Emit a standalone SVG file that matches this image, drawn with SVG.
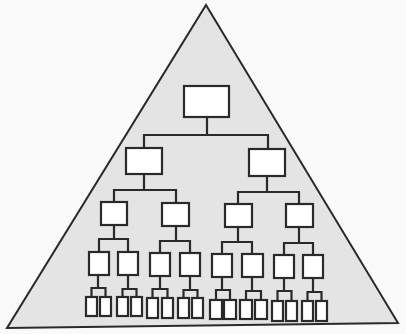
<svg xmlns="http://www.w3.org/2000/svg" width="406" height="334" viewBox="0 0 406 334">
<style>
.bg{fill:#fafafa}
.tri{fill:#e4e4e4;stroke:#2a2a2a;stroke-width:2;stroke-linejoin:miter}
.n{fill:#ffffff;stroke:#2a2a2a;stroke-width:2.2}
.c{fill:none;stroke:#2a2a2a;stroke-width:2.2;stroke-linejoin:miter}
</style>
<rect class="bg" x="0" y="0" width="406" height="334"/>
<polygon id="pyramid" class="tri" points="206,5 398,323 7,328"/>
<g id="connectors">
<path class="c" d="M207,117V135M144,148V135H268V149"/>
<path class="c" d="M144,174V190M114,202V190H176V203"/>
<path class="c" d="M267,176V192M238,204V192H299V204"/>
<path class="c" d="M114,225V239M99,252V239H128V252"/>
<path class="c" d="M176,226V241M160,253V241H190V253"/>
<path class="c" d="M238,227V242M222,254V242H252V254"/>
<path class="c" d="M299,227V243M284,255V243H313V255"/>
<path class="c" d="M98,275V288M91.5,297V288H105.5V297"/>
<path class="c" d="M128,275V289M122.5,297V289H136.5V297"/>
<path class="c" d="M160,276V289M152.5,298V289H167.5V298"/>
<path class="c" d="M190,276V290M183.5,298V290H197.5V298"/>
<path class="c" d="M222,277V290M216,300V290H230V300"/>
<path class="c" d="M252,277V291M246,300V291H261V300"/>
<path class="c" d="M284,278V291M277.5,301V291H291.5V301"/>
<path class="c" d="M313,278V292M307.5,301V292H321.5V301"/>
</g>
<g id="n1"><rect class="n" x="184" y="86" width="45" height="31"/></g>
<g id="n2a"><rect class="n" x="126" y="148" width="36" height="26"/></g>
<g id="n2b"><rect class="n" x="249" y="149" width="36" height="27"/></g>
<g id="n3a"><rect class="n" x="101" y="202" width="26" height="23"/></g>
<g id="n3b"><rect class="n" x="162" y="203" width="27" height="23"/></g>
<g id="n3c"><rect class="n" x="225" y="204" width="27" height="23"/></g>
<g id="n3d"><rect class="n" x="286" y="204" width="27" height="23"/></g>
<g id="n4a"><rect class="n" x="89" y="252" width="20" height="23"/></g>
<g id="n4b"><rect class="n" x="118" y="252" width="20" height="23"/></g>
<g id="n4c"><rect class="n" x="150" y="253" width="20" height="23"/></g>
<g id="n4d"><rect class="n" x="180" y="253" width="20" height="23"/></g>
<g id="n4e"><rect class="n" x="212" y="254" width="20" height="23"/></g>
<g id="n4f"><rect class="n" x="242" y="254" width="21" height="23"/></g>
<g id="n4g"><rect class="n" x="274" y="255" width="20" height="23"/></g>
<g id="n4h"><rect class="n" x="303" y="255" width="20" height="23"/></g>
<g id="n5a"><rect class="n" x="86" y="297" width="11" height="19"/></g>
<g id="n5b"><rect class="n" x="100" y="297" width="11" height="19"/></g>
<g id="n5c"><rect class="n" x="117" y="297" width="11" height="19"/></g>
<g id="n5d"><rect class="n" x="131" y="297" width="11" height="19"/></g>
<g id="n5e"><rect class="n" x="147" y="298" width="11" height="20"/></g>
<g id="n5f"><rect class="n" x="162" y="298" width="11" height="20"/></g>
<g id="n5g"><rect class="n" x="178" y="298" width="11" height="20"/></g>
<g id="n5h"><rect class="n" x="192" y="298" width="11" height="20"/></g>
<g id="n5i"><rect class="n" x="210" y="300" width="12" height="19"/></g>
<g id="n5j"><rect class="n" x="224" y="300" width="12" height="19"/></g>
<g id="n5k"><rect class="n" x="240" y="300" width="12" height="19"/></g>
<g id="n5l"><rect class="n" x="255" y="300" width="12" height="19"/></g>
<g id="n5m"><rect class="n" x="272" y="301" width="11" height="20"/></g>
<g id="n5n"><rect class="n" x="286" y="301" width="11" height="20"/></g>
<g id="n5o"><rect class="n" x="302" y="301" width="11" height="20"/></g>
<g id="n5p"><rect class="n" x="316" y="301" width="11" height="20"/></g>
</svg>
